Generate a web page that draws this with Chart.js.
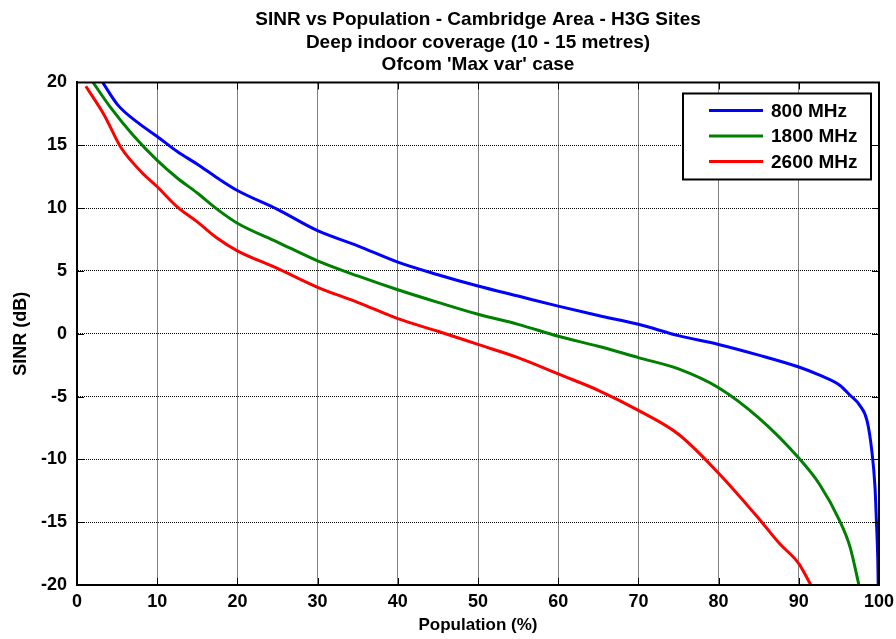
<!DOCTYPE html>
<html>
<head>
<meta charset="utf-8">
<script src="https://cdn.jsdelivr.net/npm/chart.js@4.4.1/dist/chart.umd.min.js"></script>
<style>
  html, body { margin: 0; padding: 0; background: #fff; }
  #wrap { width: 896px; height: 639px; }
</style>
</head>
<body>
<div id="wrap"><canvas id="myChart" width="896" height="639"></canvas></div>
<script>
// Population (%) vs SINR (dB)
var pop800  = [3.2, 5.1, 7.6, 10, 12.5, 15, 17.5, 20, 25, 30, 35, 40, 45, 50, 55, 60, 65, 70, 75, 80, 85, 90, 92.6, 95.1, 96.4, 97.6, 98.5, 99.1, 99.5, 99.7, 99.85, 99.9];
var sinr800 = [20, 18.2, 16.8, 15.7, 14.5, 13.5, 12.4, 11.4, 9.9, 8.2, 7.0, 5.7, 4.7, 3.8, 3.0, 2.2, 1.45, 0.75, -0.15, -0.85, -1.7, -2.65, -3.3, -4.1, -4.9, -5.7, -6.9, -9.3, -12.2, -15.3, -18, -20];

var pop1800  = [2.0, 4.2, 7, 10, 12.5, 15, 17.5, 20, 25, 30, 35, 40, 45, 50, 55, 60, 65, 70, 75, 80, 85, 90, 92.6, 95.1, 96.4, 97.5];
var sinr1800 = [20, 18, 15.8, 13.8, 12.4, 11.2, 9.9, 8.8, 7.3, 5.8, 4.6, 3.5, 2.5, 1.55, 0.75, -0.2, -1.0, -1.9, -2.8, -4.3, -6.7, -9.9, -12.0, -14.9, -17, -20];

var pop2600  = [1.1, 3.4, 5.5, 8, 10, 12.5, 15, 17.5, 20, 25, 30, 35, 40, 45, 50, 55, 60, 65, 70, 75, 80, 85, 87.6, 90, 91.5];
var sinr2600 = [19.7, 17.4, 14.8, 12.9, 11.7, 10.1, 8.9, 7.6, 6.6, 5.2, 3.7, 2.5, 1.2, 0.2, -0.85, -1.9, -3.2, -4.5, -6.1, -8.0, -11.1, -14.7, -16.7, -18.3, -20];

var seriesNames = ["800 MHz", "1800 MHz", "2600 MHz"];
var titleLines = ["SINR vs Population - Cambridge Area - H3G Sites", "Deep indoor coverage (10 - 15 metres)", "Ofcom 'Max var' case"];

function pts(xs, ys) {
  return xs.map(function (x, i) { return { x: x, y: ys[i] }; });
}

var data = {
  datasets: [
    { label: seriesNames[0], data: pts(pop800, sinr800), borderColor: '#0000ff' },
    { label: seriesNames[1], data: pts(pop1800, sinr1800), borderColor: '#008000' },
    { label: seriesNames[2], data: pts(pop2600, sinr2600), borderColor: '#ff0000' }
  ]
};

var FONT = "'Liberation Sans', Arial, sans-serif";

// box round the axes, inward ticks, legend box in the corner
var matlabBox = {
  id: 'matlabBox',
  afterDraw: function (chart) {
    var c = chart.ctx, a = chart.chartArea;
    var xs = chart.scales.x, ys = chart.scales.y;
    c.save();
    c.strokeStyle = '#000';
    c.lineWidth = 2;
    c.strokeRect(a.left, a.top, a.right - a.left, a.bottom - a.top);
    c.lineWidth = 1;
    c.beginPath();
    xs.ticks.forEach(function (t) {
      var px = Math.round(xs.getPixelForValue(t.value)) + 0.5;
      c.moveTo(px, a.bottom); c.lineTo(px, a.bottom - 7);
      c.moveTo(px, a.top); c.lineTo(px, a.top + 7);
    });
    ys.ticks.forEach(function (t) {
      var py = Math.round(ys.getPixelForValue(t.value)) + 0.5;
      c.moveTo(a.left, py); c.lineTo(a.left + 7, py);
      c.moveTo(a.right, py); c.lineTo(a.right - 7, py);
    });
    c.stroke();

    // legend
    var bx = a.right - 196, by = a.top + 11, bw = 188, bh = 86;
    c.fillStyle = '#fff';
    c.fillRect(bx, by, bw, bh);
    c.lineWidth = 2;
    c.strokeRect(bx, by, bw, bh);
    c.font = 'bold 19px ' + FONT;
    c.textBaseline = 'middle';
    c.textAlign = 'left';
    chart.data.datasets.forEach(function (ds, i) {
      var ly = by + 17 + i * 25.5;
      c.strokeStyle = ds.borderColor;
      c.lineWidth = 3;
      c.beginPath();
      c.moveTo(bx + 26, ly); c.lineTo(bx + 80, ly);
      c.stroke();
      c.fillStyle = '#000';
      c.fillText(ds.label, bx + 88, ly + 1);
    });
    c.restore();
  }
};

var options = {
  responsive: false,
  animation: false,
  showLine: true,
  layout: { padding: { top: 0, right: 17, left: 0, bottom: 0 } },
  elements: {
    point: { radius: 0 },
    line: { borderWidth: 3, cubicInterpolationMode: 'monotone', fill: false }
  },
  plugins: {
    legend: { display: false },
    tooltip: { enabled: false },
    title: {
      display: true,
      fullSize: false,
      text: titleLines,
      color: '#000',
      font: { family: FONT, size: 19, weight: 'bold', lineHeight: 1.184 },
      padding: { top: 9, bottom: 6 }
    }
  },
  scales: {
    x: {
      type: 'linear', min: 0, max: 100,
      afterFit: function (s) { s.height = 54; s.paddingLeft = 0; s.paddingRight = 0; },
      ticks: { stepSize: 10, color: '#000', padding: 6, font: { family: FONT, size: 18, weight: 'bold' } },
      grid: { color: '#000', drawTicks: false },
      border: { color: '#000', width: 2, dash: [1, 1] },
      title: { display: true, text: 'Population (%)', color: '#000', padding: { top: 0, bottom: 3 }, font: { family: FONT, size: 17, weight: 'bold' } }
    },
    y: {
      type: 'linear', min: -20, max: 20,
      afterFit: function (s) { s.width = 77; s.paddingTop = 0; s.paddingBottom = 0; },
      ticks: { stepSize: 5, color: '#000', padding: 10, font: { family: FONT, size: 18, weight: 'bold' } },
      grid: { color: '#000', drawTicks: false },
      border: { color: '#000', width: 2, dash: [1, 1] },
      title: { display: true, text: 'SINR (dB)', color: '#000', padding: { top: 10, bottom: 0 }, font: { family: FONT, size: 18, weight: 'bold' } }
    }
  }
};

var ctx = document.getElementById('myChart').getContext('2d');
var myChart = new Chart(ctx, {
  type: 'scatter',
  data: data,
  options: options,
  plugins: [matlabBox]
});
</script>
</body>
</html>
